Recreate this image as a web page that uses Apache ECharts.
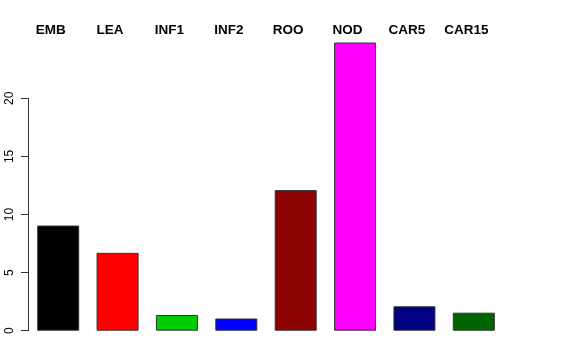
<!DOCTYPE html>
<html>
<head>
<meta charset="utf-8">
<script src="https://cdn.jsdelivr.net/npm/echarts@6/dist/echarts.min.js"></script>
<style>html,body{margin:0;padding:0;background:#fff;}#c{width:576px;height:360px;}</style>
</head>
<body>
<div id="c"></div>
<script>
const categories = ['EMB', 'LEA', 'INF1', 'INF2', 'ROO', 'NOD', 'CAR5', 'CAR15'];
const values = [9.05, 6.7, 1.35, 1.05, 12.1, 24.8, 2.1, 1.55];
const colors = ['#000000', '#FF0000', '#00CD00', '#0000FF', '#8B0000', '#FF00FF', '#000080', '#006400'];
const yTicks = [0, 5, 10, 15, 20];

const chart = echarts.init(document.getElementById('c'), null, {renderer: 'canvas'});
chart.setOption({
  animation: false,
  backgroundColor: '#ffffff',
  grid: {left: 28.5, top: 98.3, width: 475, height: 232.4},
  xAxis: {
    type: 'category',
    data: categories,
    position: 'top',
    axisLine: {show: false},
    axisTick: {show: false},
    axisLabel: {
      margin: 61,
      fontFamily: 'Liberation Sans, Arial, sans-serif',
      fontWeight: 'bold',
      fontSize: 13.5,
      color: '#000',
      padding: [0, 15, 0, 0]
    }
  },
  yAxis: {
    type: 'value',
    min: yTicks[0],
    max: yTicks[yTicks.length - 1],
    interval: 5,
    splitLine: {show: false},
    axisLine: {show: true, lineStyle: {color: '#333', width: 1}},
    axisTick: {show: true, length: 7.5, lineStyle: {color: '#333'}},
    axisLabel: {
      rotate: 90,
      margin: 12.5,
      fontFamily: 'Liberation Sans, Arial, sans-serif',
      fontSize: 12,
      color: '#000'
    }
  },
  series: [{
    type: 'bar',
    data: values.map((v, i) => ({value: v, itemStyle: {color: colors[i]}})),
    barWidth: 42,
    clip: false,
    itemStyle: {borderColor: '#333', borderWidth: 1}
  }]
});
</script>
</body>
</html>
